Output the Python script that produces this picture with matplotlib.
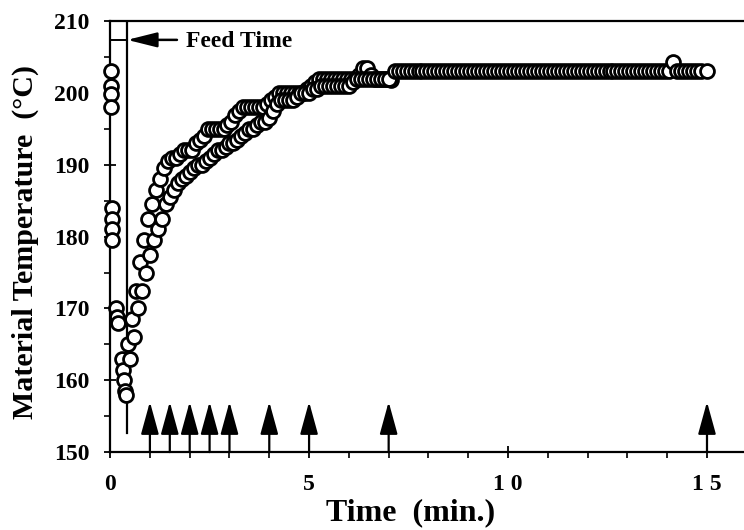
import matplotlib
matplotlib.use('Agg')
import matplotlib.pyplot as plt

# Readings before feed (near t = 0)
pre_time = [0.02, 0.02, 0.03, 0.03, 0.04, 0.05, 0.05, 0.04,
            0.15, 0.18, 0.20, 0.30, 0.33, 0.35, 0.38, 0.40]
pre_temp = [203.0, 201.0, 199.8, 198.0, 184.0, 182.5, 181.0, 179.5,
            170.0, 168.8, 168.0, 163.0, 161.5, 160.0, 158.5, 158.0]

# Upper band run
run_a_time = [0.45, 0.55, 0.65, 0.75, 0.85, 0.95, 1.05, 1.15, 1.25, 1.35,
              1.45, 1.55, 1.65, 1.75, 1.85, 1.95, 2.05, 2.15, 2.25, 2.35,
              2.45, 2.55, 2.65, 2.75, 2.85, 2.95, 3.05, 3.15, 3.25, 3.35,
              3.45, 3.55, 3.65, 3.75, 3.85, 3.95, 4.05, 4.15, 4.25, 4.35,
              4.45, 4.55, 4.65, 4.75, 4.85, 4.95, 5.05, 5.15, 5.25, 5.35,
              5.45, 5.55, 5.65, 5.75, 5.85, 5.95, 6.05, 6.15, 6.25, 6.35,
              6.45, 6.55, 6.65, 6.75, 6.85, 6.95, 7.05]
run_a_temp = [165.0, 168.5, 172.5, 176.5, 179.5, 182.5, 184.5, 186.5, 188.0, 189.5,
              190.5, 191.0, 191.0, 191.5, 192.0, 192.0, 192.0, 193.0, 193.5, 194.0,
              195.0, 195.0, 195.0, 195.0, 195.0, 195.5, 196.0, 197.0, 197.5, 198.0,
              198.0, 198.0, 198.0, 198.0, 198.0, 198.5, 199.0, 199.5, 200.0, 200.0,
              200.0, 200.0, 200.0, 200.0, 200.0, 200.5, 201.0, 201.5, 202.0, 202.0,
              202.0, 202.0, 202.0, 202.0, 202.0, 202.0, 202.0, 202.0, 202.5, 203.5,
              203.5, 202.5, 202.0, 202.0, 202.0, 202.0, 201.8]

# Lower band run
run_b_time = [0.50, 0.60, 0.70, 0.80, 0.90, 1.00, 1.10, 1.20, 1.30, 1.40,
              1.50, 1.60, 1.70, 1.80, 1.90, 2.00, 2.10, 2.20, 2.30, 2.40,
              2.50, 2.60, 2.70, 2.80, 2.90, 3.00, 3.10, 3.20, 3.30, 3.40,
              3.50, 3.60, 3.70, 3.80, 3.90, 4.00, 4.10, 4.20, 4.30, 4.40,
              4.50, 4.60, 4.70, 4.80, 4.90, 5.00, 5.10, 5.20, 5.30, 5.40,
              5.50, 5.60, 5.70, 5.80, 5.90, 6.00, 6.10, 6.20, 6.30, 6.40,
              6.50, 6.60, 6.70, 6.80, 6.90, 7.00]
run_b_temp = [163.0, 166.0, 170.0, 172.5, 175.0, 177.5, 179.5, 181.0, 182.5, 184.5,
              185.5, 186.5, 187.5, 188.0, 188.5, 189.0, 189.5, 190.0, 190.0, 190.5,
              191.0, 191.5, 192.0, 192.0, 192.5, 193.0, 193.0, 193.5, 194.0, 194.5,
              195.0, 195.0, 195.5, 196.0, 196.0, 196.5, 197.5, 198.5, 199.0, 199.0,
              199.0, 199.0, 199.5, 200.0, 200.0, 200.0, 200.5, 200.5, 201.0, 201.0,
              201.0, 201.0, 201.0, 201.0, 201.0, 201.0, 201.5, 202.0, 202.0, 202.0,
              202.0, 202.0, 202.0, 202.0, 202.0, 202.0]

# Steady plateau
plateau_time = [7.15, 7.25, 7.35, 7.45, 7.55, 7.65, 7.75, 7.85, 7.95, 8.05,
                8.15, 8.25, 8.35, 8.45, 8.55, 8.65, 8.75, 8.85, 8.95, 9.05,
                9.15, 9.25, 9.35, 9.45, 9.55, 9.65, 9.75, 9.85, 9.95, 10.05,
                10.15, 10.25, 10.35, 10.45, 10.55, 10.65, 10.75, 10.85, 10.95, 11.05,
                11.15, 11.25, 11.35, 11.45, 11.55, 11.65, 11.75, 11.85, 11.95, 12.05,
                12.15, 12.25, 12.35, 12.45, 12.55, 12.65, 12.75, 12.85, 12.95, 13.05,
                13.15, 13.25, 13.35, 13.45, 13.55, 13.65, 13.75, 13.85, 13.95, 14.05,
                14.15, 14.25, 14.35, 14.45, 14.55, 14.65, 14.75, 14.85, 15.0]
plateau_temp = [203.0] * 70 + [204.3] + [203.0] * 8

feed_time = 0.43
sample_times = [1, 1.5, 2, 2.5, 3, 4, 5, 7, 15]

serif = ['Liberation Serif', 'DejaVu Serif']

fig = plt.figure(figsize=(7.44, 5.30), dpi=100)
ax = fig.add_axes([0.148, 0.147, 0.852, 0.813])

all_time = pre_time + run_a_time + run_b_time + plateau_time
all_temp = pre_temp + run_a_temp + run_b_temp + plateau_temp
ax.scatter(all_time, all_temp, s=100, facecolors='white', edgecolors='black',
           linewidths=2.0, zorder=3, clip_on=False)

# Feed time marker
ax.plot([feed_time, feed_time], [152.6, 210], color='black', lw=1.6, zorder=2)
ax.plot([0, feed_time], [207.4, 207.4], color='black', lw=1.4, zorder=2)
ax.annotate('', xy=(feed_time, 207.4), xytext=(1.68, 207.4),
            arrowprops=dict(arrowstyle='-|>,head_length=1.8,head_width=0.45',
                            mutation_scale=10, color='black', lw=1.8,
                            shrinkA=0, shrinkB=0))
ax.text(1.9, 207.2, 'Feed Time', fontsize=17, fontweight='bold',
        family=serif, va='center', ha='left')

# Sampling arrows
for t in sample_times:
    ax.annotate('', xy=(t, 157.0), xytext=(t, 150),
                arrowprops=dict(arrowstyle='-|>,head_length=2.0,head_width=0.55',
                                mutation_scale=10, color='black', lw=1.6,
                                shrinkA=0, shrinkB=0), zorder=4)

ax.set_xlim(0, 15.93)
ax.set_ylim(150, 210)
ax.set_xticks([0, 5, 10, 15])
ax.set_xticks(range(0, 16), minor=True)
ax.set_yticks(range(150, 211, 10))
ax.set_yticks(range(155, 210, 10), minor=True)
ax.set_xticklabels(['0', '5', '1 0', '1 5'])
for lab in ax.get_xticklabels() + ax.get_yticklabels():
    lab.set_family(serif)
    lab.set_fontweight('bold')
    lab.set_fontsize(17)
ax.tick_params(which='major', direction='inout', length=8, width=1.3)
ax.tick_params(axis='x', which='major', pad=12)
ax.tick_params(axis='y', which='major', pad=11)
ax.tick_params(which='minor', direction='out', length=4, width=1.2)
ax.spines['right'].set_visible(False)
for side in ['left', 'bottom', 'top']:
    ax.spines[side].set_linewidth(1.6)

ax.set_xlabel('Time  (min.)', fontsize=23, fontweight='bold', family=serif, labelpad=2)
ax.set_ylabel('Material Temperature  (°C)', fontsize=21.6, fontweight='bold',
              family=serif, labelpad=11)
ax.xaxis.label.set_x(0.474)
ax.yaxis.label.set_y(0.487)

fig.savefig('out.png', dpi=100)
